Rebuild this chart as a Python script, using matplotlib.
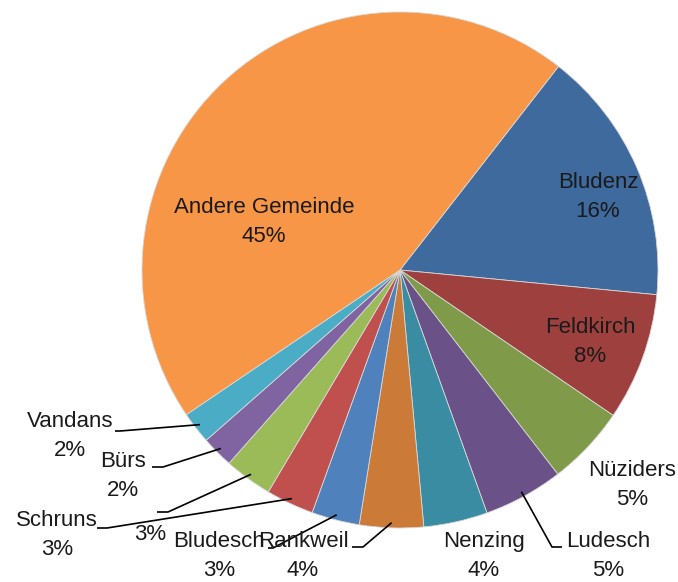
import numpy as np
import matplotlib
matplotlib.use('Agg')
import matplotlib.pyplot as plt

plt.rcParams['font.family'] = ['Liberation Sans Narrow', 'Liberation Sans', 'DejaVu Sans']

# Daten (im Uhrzeigersinn ab Bludenz)
gemeinden = ['Bludenz', 'Feldkirch', 'Nüziders', 'Ludesch', 'Nenzing', 'Rankweil',
             'Bludesch', 'Schruns', '', 'Bürs', 'Vandans', 'Andere Gemeinde']
anteile = [16, 8, 5, 5, 4, 4, 3, 3, 3, 2, 2, 45]
farben = ['#3E6A9D', '#9E413E', '#7F9A48', '#6A5188', '#3A8CA2', '#CB7A38',
          '#4F81BD', '#C0504D', '#9BBB59', '#8064A2', '#4BACC6', '#F79646']

W, H = 678, 582
cx, cy, r = 400, H - 270, 258

fig = plt.figure(figsize=(W / 100, H / 100), dpi=100)
ax = fig.add_axes([0, 0, 1, 1])

wedges, _ = ax.pie(anteile, colors=farben, startangle=52.1, counterclock=False,
                   center=(cx, cy), radius=r, frame=True,
                   wedgeprops=dict(edgecolor='#d8d8d8', linewidth=0.6))
ax.set_xlim(0, W)
ax.set_ylim(0, H)
ax.set_aspect('equal')
ax.axis('off')

# Beschriftungspositionen (Pixel, y von oben) und Führungslinien
label_pos = {
    'Bludenz': (598, 197), 'Feldkirch': (590, 342), 'Nüziders': (632, 485),
    'Ludesch': (608, 556), 'Nenzing': (484, 556), 'Rankweil': (303, 556),
    'Bludesch': (219, 556), 'Schruns': (57, 535), '': (150, 535),
    'Bürs': (123, 476), 'Vandans': (70, 436), 'Andere Gemeinde': (264, 222),
}
leader_end = {
    'Ludesch': [(552, 547), (562, 547)],
    'Rankweil': [(363, 547), (352, 547)],
    'Bludesch': [(273, 548), (268, 548)],
    'Schruns': [(107, 528), (97, 528)],
    '': [(168, 512), (157, 512)],
    'Bürs': [(163, 467), (152, 467)],
    'Vandans': [(120, 431), (115, 431)],
}

for w, name, val in zip(wedges, gemeinden, anteile):
    x, y = label_pos[name]
    txt = f'{name}\n{val}%' if name else f'{val}%'
    ax.text(x, H - y, txt, ha='center', va='center', fontsize=16,
            color='#1a1a1a', linespacing=1.5)
    if name in leader_end:
        theta = np.deg2rad((w.theta1 + w.theta2) / 2)
        xs = [cx + r * 0.98 * np.cos(theta)]
        ys = [cy + r * 0.98 * np.sin(theta)]
        for px, py in leader_end[name]:
            xs.append(px)
            ys.append(H - py)
        ax.plot(xs, ys, color='black', lw=1.2, solid_capstyle='butt')

fig.savefig('out.png', dpi=100)
